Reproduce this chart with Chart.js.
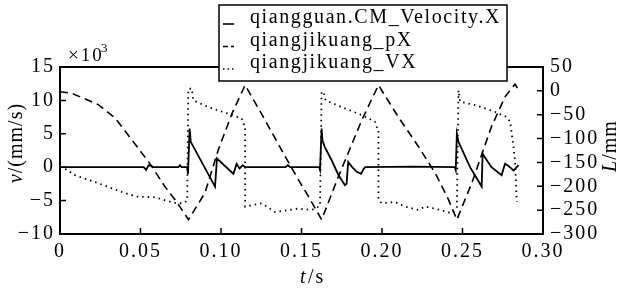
<!DOCTYPE html>
<html>
<head>
<meta charset="utf-8">
<script src="https://cdn.jsdelivr.net/npm/chart.js@4"></script>
<style>
  body { margin: 0; background: #fff; }
  #wrap { width: 619px; height: 291px; position: relative; }
</style>
</head>
<body>
<div id="wrap"><canvas id="simChart"></canvas></div>
<script>
// qiangguan.CM_Velocity.X  (left axis, x10^3 mm/s)
const velT = [0, 0.052, 0.0535, 0.055, 0.0565, 0.058, 0.0735, 0.0745, 0.0755, 0.079, 0.0795, 0.0805, 0.0812, 0.0963, 0.0975, 0.1077, 0.1097, 0.1115, 0.1135, 0.115,
  0.140, 0.1415, 0.143, 0.161, 0.1615, 0.1625, 0.163, 0.1645, 0.1688, 0.173, 0.177, 0.178, 0.179, 0.1815, 0.1843, 0.187, 0.1885, 0.1895,
  0.22, 0.2453, 0.2458, 0.2465, 0.2475, 0.2547, 0.2619, 0.2625, 0.268, 0.2743, 0.2764, 0.278, 0.2817, 0.2848];
const velV = [0, 0, -0.4, 0.3, 0.2, 0, 0, 0.3, 0, 0, -1.0, 5.8, 3.8, -2.9, 1.3, -1.0, 0.5, -0.2, 0.3, 0,
  0, 0.3, 0, 0, -0.4, 5.8, 4.0, 3.0, 1.0, -1.2, -2.7, -2.5, 0.8, 0, -0.7, -1.0, -0.3, 0,
  0.1, 0, -0.4, 5.0, 3.8, 0, -2.9, 2.0, 0, -1.2, 0.5, 0.3, -0.5, 0.3];

// qiangjikuang_pX  (right axis, mm)
const pxT = [0, 0.0073, 0.0238, 0.0342, 0.0445, 0.057, 0.065, 0.0725, 0.0798, 0.090, 0.0984, 0.107, 0.115, 0.1273, 0.1398, 0.148, 0.1543, 0.1625,
  0.173, 0.1875, 0.1978, 0.210, 0.2227, 0.233, 0.2413, 0.2465, 0.2558, 0.268, 0.2765, 0.2826, 0.2848];
const pxL = [-2, -5, -29, -57, -102, -158, -200, -233, -270, -214, -123, -46, 12, -61, -137, -186, -221, -270,
  -179, -61, 12, -54, -117, -172, -228, -270, -193, -75, -12, 14, 2];

// qiangjikuang_VX  (left axis, x10^3 mm/s)
const vxT = [0, 0.003, 0.0093, 0.0238, 0.0383, 0.0476, 0.059, 0.0673, 0.0725, 0.0765, 0.079, 0.0797, 0.0818, 0.0828, 0.0921, 0.1046, 0.1128, 0.1139, 0.115, 0.115,
  0.1253, 0.1335, 0.148, 0.1564, 0.1615, 0.1625, 0.1636, 0.165, 0.177, 0.1875, 0.1957, 0.1968, 0.1978, 0.1978, 0.1999, 0.2081, 0.2143, 0.2227,
  0.2267, 0.233, 0.2433, 0.2465, 0.2475, 0.2485, 0.2578, 0.270, 0.2776, 0.2796, 0.2817, 0.2826, 0.2837];
const vxV = [0, -0.2, -1.2, -2.4, -3.7, -4.4, -4.5, -5.1, -5.4, -5.4, -5.0, 11.7, 11.8, 10.0, 9.0, 8.0, 7.3, 6.5, 6.3, -5.9,
  -5.4, -6.7, -6.2, -6.4, -5.8, 11.3, 11.3, 10.0, 8.8, 7.8, 6.8, 6.0, 5.8, -4.9, -5.4, -5.2, -5.9, -6.4,
  -5.9, -6.2, -6.9, -6.0, 11.5, 9.8, 9.3, 8.3, 7.5, 6.8, 3.0, 1.0, -5.2];

const seriesNames = ["qiangguan.CM_Velocity.X", "qiangjikuang_pX", "qiangjikuang_VX"];
const xTickLabels = ["0", "0.05", "0.10", "0.15", "0.20", "0.25", "0.30"];

const FONT = "Liberation Serif";
const toPts = (xs, ys) => xs.map((x, i) => ({ x: x, y: ys[i] }));
const minus = v => String(v).replace("-", "\u2212");

// frame, inward ticks, titles and legend
const decor = {
  id: "decor",
  beforeDraw(chart) {
    // wider spacing for the tick labels, like the reference font
    chart.ctx.letterSpacing = "2px";
  },
  afterDatasetsDraw(chart) {
    const ctx = chart.ctx;
    const a = chart.chartArea;
    const sx = chart.scales.x, sy = chart.scales.y, sy2 = chart.scales.y2;
    ctx.save();
    ctx.strokeStyle = "#000";
    ctx.lineWidth = 1.5;
    ctx.beginPath();
    sx.ticks.forEach(t => {
      const p = sx.getPixelForValue(t.value);
      ctx.moveTo(p, a.bottom); ctx.lineTo(p, a.bottom - 6);
    });
    sy.ticks.forEach(t => {
      const p = sy.getPixelForValue(t.value);
      ctx.moveTo(a.left, p); ctx.lineTo(a.left + 6, p);
    });
    sy2.ticks.forEach(t => {
      const p = sy2.getPixelForValue(t.value);
      ctx.moveTo(a.right, p); ctx.lineTo(a.right - 6, p);
    });
    ctx.stroke();
    ctx.lineWidth = 2;
    ctx.strokeRect(a.left, a.top, a.right - a.left, a.bottom - a.top);
    ctx.restore();
  },
  afterDraw(chart) {
    const ctx = chart.ctx;
    const a = chart.chartArea;
    ctx.save();
    ctx.fillStyle = "#000";
    ctx.textBaseline = "alphabetic";
    ctx.letterSpacing = "2px";

    // x10^3
    ctx.font = "19px '" + FONT + "'";
    ctx.textAlign = "left";
    ctx.fillText("\u00d710", a.left + 8, 61);
    ctx.font = "13px '" + FONT + "'";
    ctx.fillText("3", a.left + 41, 52);

    // x title
    ctx.textAlign = "left";
    ctx.font = "italic 20px '" + FONT + "'";
    ctx.fillText("t", 300, 283);
    ctx.font = "20px '" + FONT + "'";
    ctx.fillText("/s", 308, 283);

    // left title, reads upward
    ctx.letterSpacing = "1px";
    ctx.save();
    ctx.translate(22, 143);
    ctx.rotate(-Math.PI / 2);
    ctx.textAlign = "left";
    ctx.font = "italic 20px '" + FONT + "'";
    const vW = ctx.measureText("v").width;
    ctx.font = "20px '" + FONT + "'";
    const restW = ctx.measureText("/(mm/s)").width;
    const x0 = -(vW + restW) / 2;
    ctx.font = "italic 20px '" + FONT + "'";
    ctx.fillText("v", x0, 0);
    ctx.font = "20px '" + FONT + "'";
    ctx.fillText("/(mm/s)", x0 + vW, 0);
    ctx.restore();

    // right title, reads upward
    ctx.save();
    ctx.translate(616, 146);
    ctx.rotate(-Math.PI / 2);
    ctx.font = "italic 20px '" + FONT + "'";
    const lW = ctx.measureText("L").width;
    ctx.font = "20px '" + FONT + "'";
    const mmW = ctx.measureText("/mm").width;
    const x1 = -(lW + mmW) / 2;
    ctx.font = "italic 20px '" + FONT + "'";
    ctx.fillText("L", x1, 0);
    ctx.font = "20px '" + FONT + "'";
    ctx.fillText("/mm", x1 + lW, 0);
    ctx.restore();

    // legend box
    const bx = 219, by = 5, bw = 288, bh = 76;
    ctx.fillStyle = "#fff";
    ctx.fillRect(bx, by, bw, bh);
    ctx.strokeStyle = "#000";
    ctx.lineWidth = 1.5;
    ctx.strokeRect(bx, by, bw, bh);
    ctx.fillStyle = "#000";
    ctx.font = "20px '" + FONT + "'";
    ctx.letterSpacing = "1.6px";
    ctx.textAlign = "left";
    const dashes = [[], [5, 3], [1.5, 3]];
    chart.data.datasets.forEach((ds, i) => {
      const base = 23 + i * 22.5;
      ctx.fillText(seriesNames[i], 250, base);
      ctx.save();
      ctx.setLineDash(dashes[i]);
      ctx.lineWidth = 1.6;
      ctx.beginPath();
      ctx.moveTo(223, base + 1);
      ctx.lineTo(234, base + 1);
      ctx.stroke();
      ctx.restore();
    });
    ctx.restore();
  }
};

new Chart(document.getElementById("simChart").getContext("2d"), {
  type: "line",
  data: {
    datasets: [
      {
        label: seriesNames[0],
        data: toPts(velT, velV),
        yAxisID: "y",
        borderColor: "#000",
        borderWidth: 1.8,
        pointRadius: 0,
        tension: 0
      },
      {
        label: seriesNames[1],
        data: toPts(pxT, pxL),
        yAxisID: "y2",
        borderColor: "#000",
        borderWidth: 1.6,
        borderDash: [8, 5],
        pointRadius: 0,
        tension: 0
      },
      {
        label: seriesNames[2],
        data: toPts(vxT, vxV),
        yAxisID: "y",
        borderColor: "#000",
        borderWidth: 1.8,
        borderDash: [1.5, 4],
        pointRadius: 0,
        tension: 0
      }
    ]
  },
  options: {
    responsive: true,
    maintainAspectRatio: false,
    animation: false,
    devicePixelRatio: 1,
    layout: { padding: { top: 67, left: 0, right: 0, bottom: 0 } },
    plugins: { legend: { display: false }, tooltip: { enabled: false } },
    scales: {
      x: {
        type: "linear",
        min: 0,
        max: 0.3,
        afterFit: s => { s.height = 57; },
        grid: { display: false, drawTicks: false },
        border: { display: false },
        ticks: {
          stepSize: 0.05,
          autoSkip: false,
          maxRotation: 0,
          padding: 6,
          color: "#000",
          font: { family: FONT, size: 20 },
          callback: (v, i) => xTickLabels[i]
        }
      },
      y: {
        position: "left",
        min: -10,
        max: 15,
        afterFit: s => { s.width = 60; },
        grid: { display: false, drawTicks: false },
        border: { display: false },
        ticks: {
          stepSize: 5,
          autoSkip: false,
          padding: 5,
          color: "#000",
          font: { family: FONT, size: 20 },
          callback: v => minus(v)
        }
      },
      y2: {
        position: "right",
        min: -300,
        max: 50,
        afterFit: s => { s.width = 76; },
        grid: { display: false, drawTicks: false },
        border: { display: false },
        ticks: {
          stepSize: 50,
          autoSkip: false,
          padding: 7,
          color: "#000",
          font: { family: FONT, size: 20 },
          callback: v => minus(v)
        }
      }
    }
  },
  plugins: [decor]
});
</script>
</body>
</html>
